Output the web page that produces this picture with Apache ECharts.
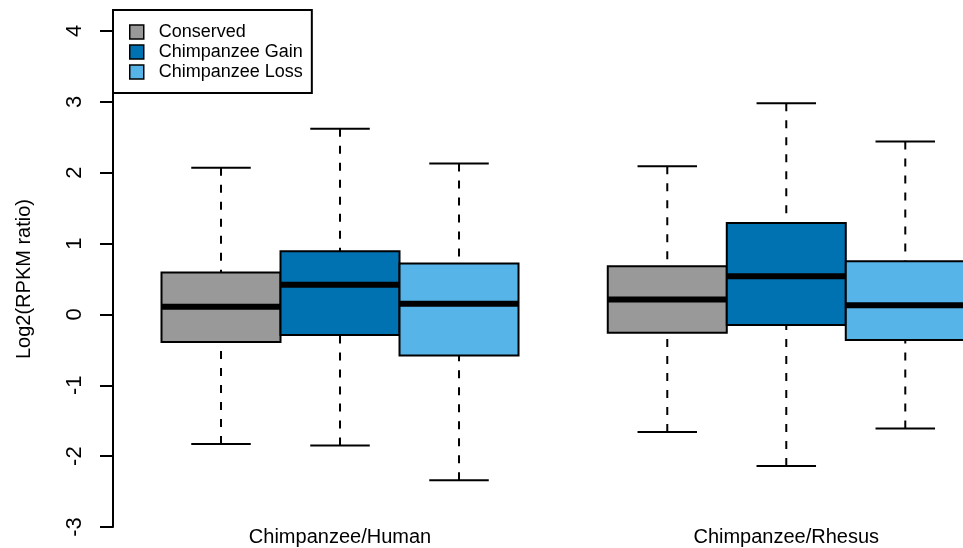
<!DOCTYPE html>
<html><head><meta charset="utf-8">
<script src="https://cdn.jsdelivr.net/npm/echarts@6/dist/echarts.min.js"></script>
<style>html,body{margin:0;padding:0;background:#fff}#c{width:963px;height:548px}</style>
</head><body><div id="c"></div>
<script>
// ---- data ----
const categories = ['Chimpanzee/Human', 'Chimpanzee/Rhesus'];
const seriesNames = ['Conserved', 'Chimpanzee Gain', 'Chimpanzee Loss'];
// each row: [lower whisker, Q1, median, Q3, upper whisker], one row per category
const conserved = [[-1.83, -0.39, 0.11, 0.59, 2.07], [-1.66, -0.26, 0.21, 0.68, 2.09]];
const gain      = [[-1.85, -0.29, 0.42, 0.89, 2.62], [-2.14, -0.15, 0.54, 1.29, 2.98]];
const loss      = [[-2.34, -0.58, 0.15, 0.72, 2.13], [-1.61, -0.36, 0.13, 0.75, 2.44]];
const yTicks = [-3, -2, -1, 0, 1, 2, 3, 4];

// ---- layout (not data) ----
const groupCenter = [2, 5.75];
const slotOffset = [-1, 0, 1];
const colors = ['#999999', '#0072B2', '#56B4E9'];
const FONT = 'Liberation Sans, Arial, Helvetica, sans-serif';

function buildData(rows, s) {
  return rows.map((r, i) => [groupCenter[i] + slotOffset[s]].concat(r));
}

function makeRender(color) {
  return function (params, api) {
    const x = api.value(0);
    const lo = api.value(1), q1 = api.value(2), md = api.value(3), q3 = api.value(4), hi = api.value(5);
    const c = (xx, yy) => api.coord([xx, yy]);
    const pHi = c(x, hi), pQ3 = c(x, q3), pQ1 = c(x, q1), pLo = c(x, lo);
    const capL = c(x - 0.25, hi)[0], capR = c(x + 0.25, hi)[0];
    const bL = c(x - 0.5, q3)[0], bR = c(x + 0.5, q3)[0];
    const pMd = c(x, md);
    const dash = {stroke: '#000', lineWidth: 2, lineDash: [8, 9]};
    const solid = {stroke: '#000', lineWidth: 2};
    return {type: 'group', children: [
      {type: 'line', shape: {x1: pHi[0], y1: pHi[1], x2: pQ3[0], y2: pQ3[1]}, style: dash},
      {type: 'line', shape: {x1: pLo[0], y1: pLo[1], x2: pQ1[0], y2: pQ1[1]}, style: dash},
      {type: 'line', shape: {x1: capL, y1: pHi[1], x2: capR, y2: pHi[1]}, style: solid},
      {type: 'line', shape: {x1: capL, y1: pLo[1], x2: capR, y2: pLo[1]}, style: solid},
      {type: 'rect', shape: {x: bL, y: pQ3[1], width: bR - bL, height: pQ1[1] - pQ3[1]},
        style: {fill: color, stroke: '#000', lineWidth: 2}},
      {type: 'line', shape: {x1: bL, y1: pMd[1], x2: bR, y2: pMd[1]}, style: {stroke: '#000', lineWidth: 6}}
    ]};
  };
}

const allRows = [conserved, gain, loss];
const chart = echarts.init(document.getElementById('c'), null, {renderer: 'canvas'});
chart.setOption({
  animation: false,
  backgroundColor: '#fff',
  grid: {left: 113, right: 0, top: 31, bottom: 21, containLabel: false},
  legend: {
    left: 113, top: 10, orient: 'vertical',
    data: seriesNames,
    icon: 'rect', itemWidth: 14, itemHeight: 14, itemGap: 0,
    padding: [12, 9, 11, 16],
    borderColor: '#000', borderWidth: 2, backgroundColor: '#fff',
    itemStyle: {borderColor: '#000', borderWidth: 1.5},
    textStyle: {fontFamily: FONT, fontSize: 18, color: '#000', lineHeight: 20, padding: [0, 0, 0, 10]}
  },
  xAxis: {
    type: 'value', min: 0.0924, max: 7.235,
    axisLine: {show: false}, axisTick: {show: false}, splitLine: {show: false},
    axisLabel: {
      customValues: groupCenter,
      formatter: v => categories[groupCenter.findIndex(g => Math.abs(g - v) < 1e-6)] || '',
      fontFamily: FONT, fontSize: 20, color: '#000', margin: 0
    }
  },
  yAxis: {
    type: 'value', min: yTicks[0], max: yTicks[yTicks.length - 1], interval: 1,
    name: 'Log2(RPKM ratio)', nameLocation: 'middle', nameGap: 79,
    nameTextStyle: {fontFamily: FONT, fontSize: 20, color: '#000'},
    axisLine: {show: true, lineStyle: {color: '#000', width: 2}},
    axisTick: {show: true, length: 13, lineStyle: {color: '#000', width: 2}},
    splitLine: {show: false},
    axisLabel: {rotate: 90, fontFamily: FONT, fontSize: 22, color: '#000', margin: 27}
  },
  series: allRows.map((rows, s) => ({
    type: 'custom', name: seriesNames[s],
    itemStyle: {color: colors[s]},
    renderItem: makeRender(colors[s]),
    encode: {x: 0, y: [1, 2, 3, 4, 5]},
    data: buildData(rows, s),
    clip: false
  }))
});
</script></body></html>
